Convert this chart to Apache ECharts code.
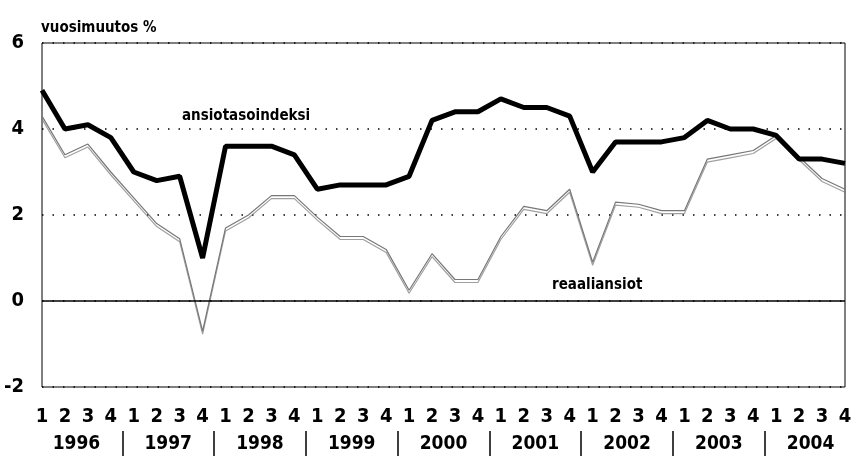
<!DOCTYPE html>
<html>
<head>
<meta charset="utf-8">
<script src="https://cdn.jsdelivr.net/npm/echarts@6/dist/echarts.min.js"></script>
<style>
  html, body { margin: 0; padding: 0; background: #fff; }
  #chart { width: 854px; height: 456px; }
</style>
</head>
<body>
<div id="chart"></div>
<script>
// quarterly data 1996-2004, annual change %
const years = ["1996", "1997", "1998", "1999", "2000", "2001", "2002", "2003", "2004"];
const quarters = ["1", "2", "3", "4"];
const ansiotasoindeksi = [
    4.9, 4.0, 4.1, 3.8,
    3.0, 2.8, 2.9, 1.0,
    3.6, 3.6, 3.6, 3.4,
    2.6, 2.7, 2.7, 2.7,
    2.9, 4.2, 4.4, 4.4,
    4.7, 4.5, 4.5, 4.3,
    3.0, 3.7, 3.7, 3.7,
    3.8, 4.2, 4.0, 4.0,
    3.85, 3.3, 3.3, 3.2,
];
const reaaliansiot = [
    4.3, 3.4, 3.65, 3.0,
    2.4, 1.8, 1.45, -0.7,
    1.7, 2.0, 2.45, 2.45,
    1.95, 1.5, 1.5, 1.2,
    0.25, 1.1, 0.5, 0.5,
    1.5, 2.2, 2.1, 2.6,
    0.9, 2.3, 2.25, 2.1,
    2.1, 3.3, 3.4, 3.5,
    3.85, 3.35, 2.85, 2.6,
];
const yMin = -2;
const yMax = 6;
const yStep = 2;

const categories = [];
years.forEach((y) => quarters.forEach((q) => categories.push(y + "/" + q)));

const FONT = "'Liberation Sans Narrow', 'DejaVu Sans Condensed', 'Roboto Condensed', 'Noto Sans', sans-serif";
const plotLeft = 42;
const plotRight = 845;
const plotTop = 43;
const plotBottom = 387;
const yearAxisY = 431;
const step = (plotRight - plotLeft) / (categories.length - 1);

const labelStyle = { fontFamily: FONT, fontSize: 20, fontWeight: "bold", color: "#000" };

const chart = echarts.init(document.getElementById("chart"));
chart.setOption({
    animation: false,
    title: {
        text: "vuosimuutos %",
        left: 36,
        top: 16,
        textStyle: { fontFamily: FONT, fontSize: 15, fontWeight: "bold", color: "#000" },
    },
    grid: [
        {
            left: plotLeft,
            top: plotTop,
            width: plotRight - plotLeft,
            height: plotBottom - plotTop,
            outerBoundsMode: "none",
            show: true,
            borderColor: "#000",
            borderWidth: 1,
        },
        // year axis: shifted half a quarter left so year bands cover their 4 quarters,
        // one spare band on the right pushes the closing tick off the canvas
        {
            left: plotLeft - step / 2,
            top: plotTop,
            width: step * (categories.length + 4),
            height: yearAxisY - plotTop,
            outerBoundsMode: "none",
        },
    ],
    xAxis: [
        {
            type: "category",
            gridIndex: 0,
            data: categories,
            boundaryGap: false,
            axisLine: { show: false },
            axisTick: { show: false },
            axisLabel: {
                ...labelStyle,
                interval: 0,
                margin: 20,
                formatter: (v) => v.split("/")[1],
            },
        },
        {
            type: "category",
            gridIndex: 1,
            data: years.concat([""]),
            boundaryGap: true,
            axisLine: { show: false },
            axisTick: {
                show: true,
                length: 25,
                interval: (i) => i > 0 && i < years.length,
                lineStyle: { color: "#000", width: 1.5 },
            },
            axisLabel: { ...labelStyle, fontSize: 19, interval: 0, margin: 4 },
        },
    ],
    yAxis: [
        {
            type: "value",
            gridIndex: 0,
            min: yMin,
            max: yMax,
            interval: yStep,
            axisLine: { show: false },
            axisTick: { show: false },
            axisLabel: { ...labelStyle, margin: 18 },
            splitLine: {
                show: true,
                lineStyle: { color: "#000", width: 1.5, type: [1.5, 9] },
            },
        },
        { type: "value", gridIndex: 1, show: false },
    ],
    graphic: [
        {
            type: "text",
            left: 182,
            top: 109,
            style: { text: "ansiotasoindeksi", fontFamily: FONT, fontSize: 15, fontWeight: "bold", fill: "#000" },
        },
        {
            type: "text",
            left: 552,
            top: 278,
            style: { text: "reaaliansiot", fontFamily: FONT, fontSize: 15, fontWeight: "bold", fill: "#000" },
        },
    ],
    series: [
        {
            name: "reaaliansiot",
            type: "line",
            xAxisIndex: 0,
            yAxisIndex: 0,
            data: reaaliansiot,
            symbol: "none",
            lineStyle: {
                color: "#777",
                width: 1.2,
                shadowColor: "rgba(120,120,120,0.7)",
                shadowBlur: 0,
                shadowOffsetY: 3,
            },
            markLine: {
                silent: true,
                symbol: "none",
                label: { show: false },
                lineStyle: { color: "#000", width: 1.5, type: "solid" },
                data: [{ yAxis: 0 }],
            },
            z: 2,
        },
        {
            name: "ansiotasoindeksi",
            type: "line",
            xAxisIndex: 0,
            yAxisIndex: 0,
            data: ansiotasoindeksi,
            symbol: "none",
            lineStyle: { color: "#000", width: 5 },
            z: 3,
        },
    ],
});
</script>
</body>
</html>
